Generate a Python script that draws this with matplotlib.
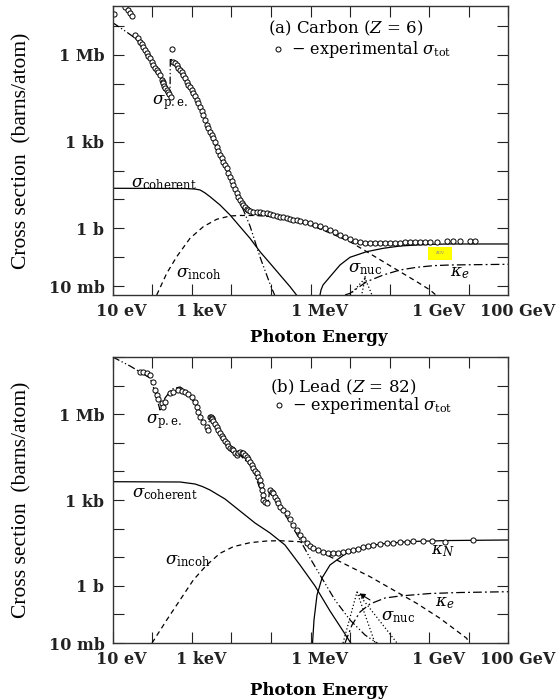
import matplotlib

matplotlib.use("Agg")
import matplotlib.pyplot as plt
import numpy as np
from matplotlib.lines import Line2D
from matplotlib.patches import Rectangle
from matplotlib.transforms import ScaledTranslation

plt.rcParams["font.family"] = "DejaVu Serif"
plt.rcParams["mathtext.fontset"] = "dejavuserif"

# all values are log10(E / MeV) and log10(sigma / barn)

# ---- (a) Carbon ----
c_tot_logE = [-4.967, -4.689, -4.613, -4.563, -4.512,
              -4.437, -4.37, -4.310, -4.27, -4.227, -4.18, -4.141, -4.10, -4.057, -4.015,
              -3.974, -3.93, -3.888, -3.845, -3.805, -3.762, -3.74, -3.721, -3.70, -3.678,
              -3.636, -3.595, -3.565, -3.534, -3.509,
              -3.468, -3.425, -3.382, -3.34, -3.299, -3.26, -3.216, -3.17, -3.130, -3.09,
              -3.046, -3.005, -2.963, -2.92, -2.877, -2.835, -2.793, -2.75, -2.710, -2.667,
              -2.624, -2.58, -2.541, -2.50, -2.457, -2.41, -2.371, -2.33, -2.288, -2.245,
              -2.204, -2.16, -2.118, -2.075, -2.035, -1.99, -1.952, -1.91, -1.866, -1.825,
              -1.782, -1.74, -1.699, -1.655, -1.613, -1.57, -1.530,
              -1.446, -1.36, -1.277, -1.19, -1.107, -1.02, -0.941, -0.855, -0.771, -0.69,
              -0.602, -0.52, -0.435, -0.35, -0.266, -0.14, -0.013, 0.11,
              0.240, 0.37, 0.493, 0.62, 0.746, 0.87, 0.998, 1.12, 1.251, 1.38, 1.504, 1.63,
              1.757, 1.88, 2.009, 2.14, 2.262, 2.39, 2.515, 2.64,
              2.768, 2.9, 3.021, 3.190, 3.443, 3.610, 3.779, 4.032, 4.158]
c_tot_logS = [7.412, 7.654, 7.550, 7.447, 7.343,
              6.686, 6.57, 6.455, 6.37, 6.282, 6.17, 6.054, 5.97, 5.881, 5.765,
              5.649, 5.56, 5.476, 5.39, 5.304, 5.131, 5.07, 5.017, 4.93, 4.844,
              4.785, 4.726, 4.64, 4.554, 6.192,
              5.763, 5.71, 5.649, 5.56, 5.476, 5.39, 5.304, 5.19, 5.072, 4.97,
              4.878, 4.78, 4.671, 4.56, 4.439, 4.33, 4.208, 4.07, 3.921, 3.75,
              3.575, 3.46, 3.344, 3.23, 3.116, 2.97, 2.825, 2.68, 2.538, 2.42,
              2.307, 2.19, 2.079, 1.93, 1.788, 1.64, 1.501, 1.36, 1.214, 1.09,
              0.983, 0.89, 0.810, 0.73, 0.661, 0.63, 0.613,
              0.578, 0.57, 0.558, 0.545, 0.523, 0.50, 0.464, 0.435, 0.406, 0.38,
              0.350, 0.32, 0.291, 0.275, 0.257, 0.22, 0.177, 0.13,
              0.084, 0.02, -0.054, -0.14, -0.227, -0.30, -0.376, -0.42, -0.459, -0.49, -0.500, -0.50,
              -0.505, -0.505, -0.505, -0.50, -0.490, -0.485, -0.480, -0.475,
              -0.470, -0.465, -0.462, -0.460, -0.450, -0.450, -0.450, -0.440, -0.440]

c_pe_logE = [-5.0, -4.689, -4.437, -4.184, -3.931, -3.729, -3.552, -3.544,
             -3.299, -3.046, -2.793, -2.541, -2.288, -2.035, -1.782, -1.530,
             -1.277, -1.024, -0.898]
c_pe_logS = [7.111, 6.825, 6.583, 6.168, 5.615, 5.062, 4.612, 5.891,
             5.407, 4.820, 4.163, 3.299, 2.469, 1.709, 0.914, 0.084,
             -0.988, -1.921, -2.336]

c_coh_logE = [-5.0, -3.173, -2.92, -2.793, -2.67, -2.541, -2.288, -2.035, -1.782, -1.530,
              -1.277, -1.024, -0.771, -0.518, -0.316]
c_coh_logS = [1.387, 1.380, 1.36, 1.329, 1.23, 1.097, 0.810, 0.464, 0.060, -0.341,
              -0.804, -1.205, -1.610, -2.014, -2.370]

c_inc_logE = [-3.888, -3.635, -3.382, -3.046, -2.710, -2.371, -2.035, -1.782,
              -1.403, -1.024, -0.518, -0.013, 0.493, 0.998, 1.420, 1.840,
              2.262, 2.684, 3.021, 3.197]
c_inc_logS = [-2.301, -1.551, -0.977, -0.341, 0.060, 0.316, 0.430, 0.447,
              0.447, 0.412, 0.309, 0.119, -0.158, -0.459, -0.804, -1.150,
              -1.496, -1.841, -2.128, -2.336]

c_kN_logE = [0.240, 0.265, 0.316, 0.493, 0.746, 0.998, 1.420, 1.840, 2.262,
             2.684, 3.104, 3.526, 5.0]
c_kN_logS = [-2.301, -2.128, -1.955, -1.669, -1.264, -0.998, -0.804, -0.687,
             -0.608, -0.573, -0.549, -0.538, -0.538]

c_ke_logE = [0.872, 0.998, 1.420, 1.840, 2.262, 2.684, 3.104, 3.526, 5.0]
c_ke_logS = [-2.301, -2.242, -1.841, -1.610, -1.437, -1.344, -1.288, -1.264, -1.240]

c_nuc_logE = [0.998, 1.378, 1.554]
c_nuc_logS = [-2.301, -1.724, -2.301]
c_nuc2_logE = [1.378, 1.294]
c_nuc2_logS = [-1.724, -2.301]

# ---- (b) Lead ----
p_tot_logE = [-4.310, -4.227, -4.141, -4.057, -3.974, -3.931, -3.888, -3.848,
              -3.762, -3.721, -3.678, -3.552, -3.468, -3.342, -3.256, -3.173,
              -3.089, -3.003, -2.920, -2.877, -2.836, -2.793, -2.710, -2.624,
              -2.584, -2.541, -2.52, -2.498, -2.48, -2.457, -2.415, -2.371, -2.33,
              -2.288, -2.245, -2.204, -2.16, -2.118, -2.075,
              -2.035, -1.99, -1.952, -1.91, -1.866, -1.825, -1.782, -1.74, -1.699, -1.655,
              -1.613, -1.57, -1.530, -1.49, -1.446, -1.40,
              -1.360, -1.32, -1.277, -1.255, -1.234, -1.213, -1.193, -1.15, -1.107,
              -1.024, -0.98, -0.941, -0.90, -0.855, -0.81,
              -0.771, -0.69, -0.602, -0.52, -0.435, -0.35, -0.266, -0.18, -0.096, -0.01,
              0.071, 0.2, 0.323, 0.45, 0.576, 0.70,
              0.829, 0.95, 1.082, 1.21, 1.334, 1.46, 1.587, 1.76, 1.926, 2.09, 2.262, 2.43,
              2.598, 2.851, 3.064, 3.400, 4.115]
p_tot_logS = [7.487, 7.466, 7.431, 7.371, 7.137, 6.847, 6.672, 6.521,
              6.381, 6.263, 6.438, 6.731, 6.787, 6.847, 6.822, 6.787,
              6.707, 6.612, 6.438, 6.263, 6.088, 5.913, 5.738, 5.563,
              5.448, 5.913, 5.89, 5.868, 5.82, 5.763, 5.66, 5.553, 5.45,
              5.343, 5.255, 5.168, 5.08, 4.994, 4.905,
              4.819, 4.78, 4.749, 4.66, 4.574, 4.63, 4.689, 4.66, 4.633, 4.575,
              4.515, 4.43, 4.340, 4.22, 4.109, 4.02,
              3.934, 3.82, 3.700, 3.52, 3.350, 3.17, 3.000, 2.94, 2.885,
              3.350, 3.29, 3.235, 3.12, 3.000, 2.88,
              2.766, 2.65, 2.535, 2.33, 2.126, 1.95, 1.777, 1.63, 1.486, 1.39,
              1.311, 1.25, 1.193, 1.16, 1.137, 1.15,
              1.172, 1.21, 1.252, 1.30, 1.346, 1.39, 1.427, 1.46, 1.486, 1.505, 1.521, 1.54,
              1.556, 1.577, 1.577, 1.542, 1.602]

p_pe_logE = [-5.0, -4.563, -4.057, -3.931, -3.805, -3.678, -3.501, -3.299,
             -3.097, -2.895, -2.692, -2.584, -2.553, -2.288, -1.883, -1.858,
             -1.479, -1.125, -1.075, -1.037, -0.771, -0.518, -0.266, -0.013,
             0.240, 0.619, 0.998, 1.378, 1.757]
p_pe_logS = [8.0, 7.686, 7.266, 6.777, 6.147, 6.567, 6.882, 6.952,
             6.777, 6.287, 5.693, 5.413, 5.868, 5.308, 4.539, 4.679,
             4.154, 2.826, 2.826, 3.315, 2.721, 2.231, 1.602, 0.972,
             0.378, -0.496, -1.195, -1.720, -2.069]

p_coh_logE = [-5.0, -3.299, -2.920, -2.73, -2.541, -2.161, -1.782, -1.403, -1.024,
              -0.645, -0.266, 0.114, 0.493, 0.872, 1.049]
p_coh_logS = [3.640, 3.630, 3.560, 3.47, 3.350, 3.035, 2.616, 2.196, 1.847,
              1.427, 0.728, -0.006, -0.881, -1.685, -2.069]

p_inc_logE = [-4.007, -3.635, -3.299, -2.963, -2.624, -2.288, -1.952, -1.530,
              -1.107, -0.771, -0.266, 0.323, 0.915, 1.504, 2.093, 2.684,
              3.273, 3.948, 4.007]
p_inc_logS = [-2.0, -1.195, -0.496, 0.203, 0.728, 1.137, 1.368, 1.508,
              1.567, 1.577, 1.542, 1.137, 0.728, 0.319, -0.146, -0.612,
              -1.136, -1.835, -2.0]

p_kN_logE = [0.051, 0.088, 0.164, 0.291, 0.493, 0.872, 1.251, 1.757, 2.515,
             3.526, 5.0]
p_kN_logS = [-2.0, -1.195, -0.321, 0.273, 0.728, 1.112, 1.322, 1.462, 1.549,
             1.584, 1.602]

p_ke_logE = [0.872, 1.049, 1.251, 1.504, 1.883, 2.262, 3.021, 3.779, 5.0]
p_ke_logS = [-2.0, -1.370, -0.915, -0.635, -0.426, -0.356, -0.269, -0.234, -0.206]

p_nuc_logE = [0.821, 1.175, 1.630]
p_nuc_logS = [-2.0, -0.216, -2.0]
p_nuc2_logE = [1.175, 2.186]
p_nuc2_logS = [-0.216, -2.0]

x_ticks = [-5, -3, 0, 3, 5]
x_labels = ["10 eV", "1 keV", "1 MeV", "1 GeV", "100 GeV"]
y_ticks = [-2, 0, 3, 6]
y_labels = ["10 mb", "1 b", "1 kb", "1 Mb"]

PE = (0, (6, 2, 1, 2, 1, 2))
INC = (0, (4, 3))
KE = (0, (7, 2.5, 1.5, 2.5))
NUC = (0, (1, 1.8))


def p(v):
    return 10.0 ** np.asarray(v)


def setup_axes(ax, ylim):
    ax.set_xscale("log")
    ax.set_yscale("log")
    xt = 10.0 ** np.arange(-5, 6)
    yt = 10.0 ** np.arange(-2, 9)
    ax.set_xticks(xt)
    ax.set_xticklabels([x_labels[x_ticks.index(k)] if k in x_ticks else "" for k in range(-5, 6)])
    ax.set_yticks(yt)
    ax.set_yticklabels([y_labels[y_ticks.index(k)] if k in y_ticks else "" for k in range(-2, 9)])
    ax.minorticks_off()
    ax.tick_params(which="major", direction="in", length=8, width=0.8, top=True, right=True,
                   labelsize=11.5, pad=6, colors="#222222")
    for lab in ax.get_xticklabels() + ax.get_yticklabels():
        lab.set_fontweight("bold")
    off = ScaledTranslation(0.09, 0, ax.figure.dpi_scale_trans)
    for lab in ax.get_xticklabels():
        lab.set_transform(lab.get_transform() + off)
    ax.set_xlim(1e-5, 1e5)
    ax.set_ylim(*ylim)
    for s in ax.spines.values():
        s.set_linewidth(1.0)
        s.set_color("#333333")
    ax.set_xlabel("Photon Energy", fontsize=12, fontweight="bold")
    ax.set_ylabel("Cross section  (barns/atom)", family="Liberation Serif", fontsize=15.5)
    ax.yaxis.set_label_coords(-0.205, 0.5)


def legend_tot(ax, x, y):
    h = Line2D([], [], marker="o", ls="none", mfc="white", mec="black", ms=3.6, mew=0.7)
    ax.legend([h], [r"$-$ experimental $\sigma_{\mathrm{tot}}$"], loc="center left",
              bbox_to_anchor=(x, y), frameon=False, handlelength=0.6, handletextpad=0.5,
              borderpad=0, borderaxespad=0, fontsize=11.6)


fig = plt.figure(figsize=(5.6, 7.0), dpi=100)
ax1 = fig.add_axes([0.2013, 0.5786, 0.7064, 0.4133])
ax2 = fig.add_axes([0.2013, 0.0814, 0.7064, 0.4086])
lk = dict(color="black", lw=0.9)
mk = dict(ls="none", marker="o", ms=3.7, mfc="white", mec="black", mew=0.7)
fs = 12

# Carbon
ax1.plot(p(c_pe_logE), p(c_pe_logS), ls=PE, **lk)
ax1.plot(p(c_coh_logE), p(c_coh_logS), ls="-", **lk)
ax1.plot(p(c_inc_logE), p(c_inc_logS), ls=INC, **lk)
ax1.plot(p(c_kN_logE), p(c_kN_logS), ls="-", **lk)
ax1.plot(p(c_ke_logE), p(c_ke_logS), ls=KE, **lk)
ax1.plot(p(c_nuc_logE), p(c_nuc_logS), ls=NUC, **lk)
ax1.plot(p(c_nuc2_logE), p(c_nuc2_logS), ls=NUC, **lk)
ax1.plot(p(c_tot_logE), p(c_tot_logS), **mk)
setup_axes(ax1, (10 ** -2.301, 10 ** 7.699))
ax1.xaxis.set_label_coords(0.52, -0.117)

ax1.text(0.393, 0.923, r"(a) Carbon ($Z$ = 6)", transform=ax1.transAxes, fontsize=12, va="center")
legend_tot(ax1, 0.405, 0.847)
ax1.text(0.145, 0.664, r"$\sigma_{\mathrm{p.e.}}$", transform=ax1.transAxes, fontsize=fs, ha="center", va="center")
ax1.text(0.130, 0.387, r"$\sigma_{\mathrm{coherent}}$", transform=ax1.transAxes, fontsize=fs, ha="center", va="center")
ax1.text(0.218, 0.073, r"$\sigma_{\mathrm{incoh}}$", transform=ax1.transAxes, fontsize=fs, ha="center", va="center")
ax1.annotate(r"$\sigma_{\mathrm{nuc}}$", xy=(p(c_nuc_logE[1]), p(c_nuc_logS[1])),
             xytext=(0.638, 0.093), textcoords="axes fraction", fontsize=fs, ha="center", va="center",
             arrowprops=dict(arrowstyle="-", lw=0.8, shrinkA=6, shrinkB=0))
ax1.text(0.878, 0.076, r"$\kappa_e$", transform=ax1.transAxes, fontsize=fs, ha="center", va="center")
ax1.add_patch(Rectangle((0.797, 0.121), 0.061, 0.045, transform=ax1.transAxes,
                        facecolor="#ffff00", edgecolor="none", zorder=5))
ax1.text(0.8275, 0.1435, r"$\kappa_N$", transform=ax1.transAxes, fontsize=4.5, color="#888888",
         ha="center", va="center", zorder=6)

# Lead
ax2.plot(p(p_pe_logE), p(p_pe_logS), ls=PE, **lk)
ax2.plot(p(p_coh_logE), p(p_coh_logS), ls="-", **lk)
ax2.plot(p(p_inc_logE), p(p_inc_logS), ls=INC, **lk)
ax2.plot(p(p_kN_logE), p(p_kN_logS), ls="-", **lk)
ax2.plot(p(p_ke_logE), p(p_ke_logS), ls=KE, **lk)
ax2.plot(p(p_nuc_logE), p(p_nuc_logS), ls=NUC, **lk)
ax2.plot(p(p_nuc2_logE), p(p_nuc2_logS), ls=NUC, **lk)
ax2.plot(p(p_tot_logE), p(p_tot_logS), **mk)
setup_axes(ax2, (1e-2, 1e8))
ax2.xaxis.set_label_coords(0.52, -0.135)

ax2.text(0.398, 0.895, r"(b) Lead ($Z$ = 82)", transform=ax2.transAxes, fontsize=12, va="center")
legend_tot(ax2, 0.408, 0.829)
ax2.text(0.130, 0.773, r"$\sigma_{\mathrm{p.e.}}$", transform=ax2.transAxes, fontsize=fs, ha="center", va="center")
ax2.text(0.133, 0.524, r"$\sigma_{\mathrm{coherent}}$", transform=ax2.transAxes, fontsize=fs, ha="center", va="center")
ax2.text(0.190, 0.290, r"$\sigma_{\mathrm{incoh}}$", transform=ax2.transAxes, fontsize=fs, ha="center", va="center")
ax2.text(0.835, 0.325, r"$\kappa_N$", transform=ax2.transAxes, fontsize=fs, ha="center", va="center")
ax2.text(0.838, 0.143, r"$\kappa_e$", transform=ax2.transAxes, fontsize=fs, ha="center", va="center")
ax2.annotate(r"$\sigma_{\mathrm{nuc}}$", xy=(p(p_nuc_logE[1]), p(p_nuc_logS[1])),
             xytext=(0.721, 0.091), textcoords="axes fraction", fontsize=fs, ha="center", va="center",
             arrowprops=dict(arrowstyle="-|>", lw=0.8, color="black", shrinkA=8, shrinkB=2,
                             mutation_scale=8))

fig.savefig("out.png", dpi=100)
plt.close(fig)
